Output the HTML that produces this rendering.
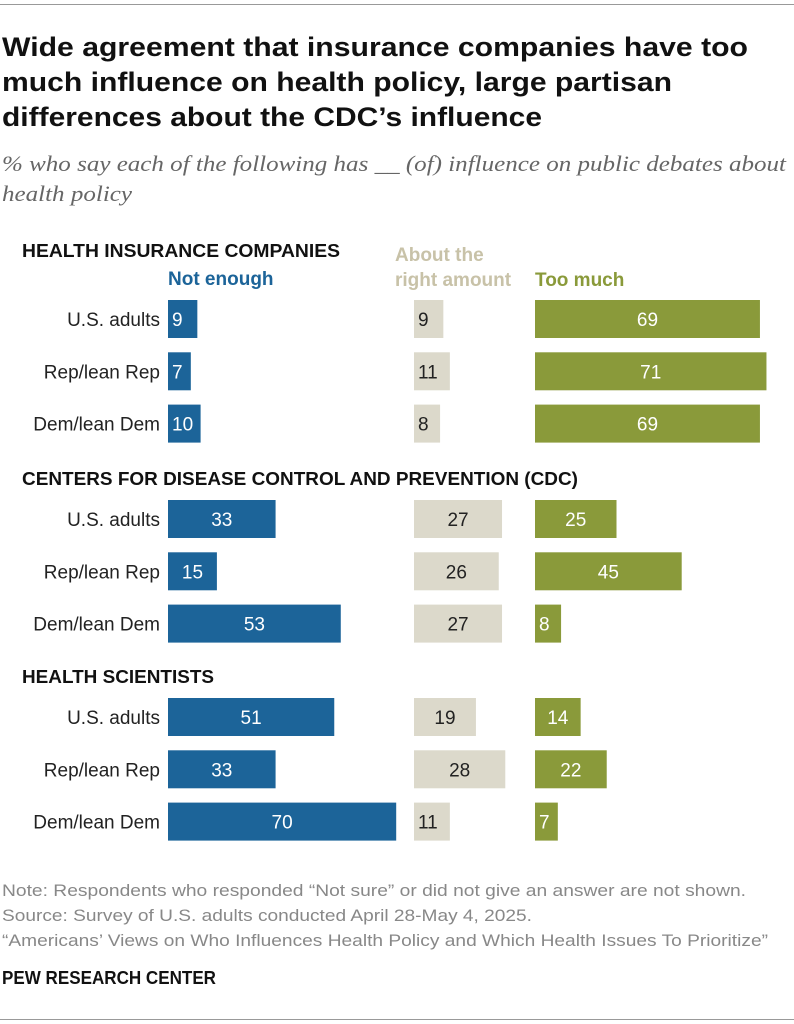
<!DOCTYPE html>
<html><head><meta charset="utf-8"><style>
body{margin:0;background:#fff;width:794px;height:1024px;overflow:hidden;font-family:"Liberation Sans Narrow","Liberation Sans",sans-serif}
svg{display:block}
</style></head><body>
<svg width="794" height="1024" viewBox="0 0 794 1024">
<line x1="0" y1="4.5" x2="794" y2="4.5" stroke="#999" stroke-width="1"/>
<g font-family="Liberation Sans, sans-serif" font-weight="bold" font-size="27" fill="#111">
<text x="2" y="56" textLength="746" lengthAdjust="spacingAndGlyphs">Wide agreement that insurance companies have too</text>
<text x="2" y="91" textLength="670" lengthAdjust="spacingAndGlyphs">much influence on health policy, large partisan</text>
<text x="2" y="126" textLength="540" lengthAdjust="spacingAndGlyphs">differences about the CDC’s influence</text>
</g>
<g font-family="Liberation Serif, serif" font-style="italic" font-size="22" fill="#666">
<text x="2" y="171" textLength="784" lengthAdjust="spacingAndGlyphs">% who say each of the following has __ (of) influence on public debates about</text>
<text x="2" y="201" textLength="130" lengthAdjust="spacingAndGlyphs">health policy</text>
</g>
<text x="168" y="285" font-weight="bold" font-size="19" fill="#1c6499">Not enough</text>
<text x="395" y="261" font-weight="bold" font-size="19" fill="#c8c2a8">About the</text>
<text x="395" y="286" font-weight="bold" font-size="19" fill="#c8c2a8">right amount</text>
<text x="535" y="286" font-weight="bold" font-size="19" fill="#8a9a3a">Too much</text>
<g id="bars"></g>
<g font-size="17" fill="#888">
<text x="2" y="896" textLength="744" lengthAdjust="spacingAndGlyphs">Note: Respondents who responded “Not sure” or did not give an answer are not shown.</text>
<text x="2" y="921" textLength="530" lengthAdjust="spacingAndGlyphs">Source: Survey of U.S. adults conducted April 28-May 4, 2025.</text>
<text x="2" y="946" textLength="766" lengthAdjust="spacingAndGlyphs">“Americans’ Views on Who Influences Health Policy and Which Health Issues To Prioritize”</text>
</g>
<text x="2" y="984" font-weight="bold" font-size="18" fill="#111" textLength="214" lengthAdjust="spacingAndGlyphs">PEW RESEARCH CENTER</text>
<line x1="0" y1="1019.5" x2="794" y2="1019.5" stroke="#999" stroke-width="1"/>
</svg>
<script>
const sections = ["HEALTH INSURANCE COMPANIES","CENTERS FOR DISEASE CONTROL AND PREVENTION (CDC)","HEALTH SCIENTISTS"];
const groups = ["U.S. adults","Rep/lean Rep","Dem/lean Dem"];
const notEnough = [9,7,10, 33,15,53, 51,33,70];
const rightAmount = [9,11,8, 27,26,27, 19,28,11];
const tooMuch = [69,71,69, 25,45,8, 14,22,7];
const NS="http://www.w3.org/2000/svg";
const g=document.getElementById('bars');
const scale=3.26;
const colX=[168,414,535];
const colors=["#1c6499","#dcd9cb","#8a9a3a"];
const textColors=["#fff","#222","#fff"];
const secTop=[250,478,676];
const secW=[318,556,192];
function rowY(s,r){return (s===0?300:secTop[s]+22)+r*52.3;}
function el(t,a,txt){const e=document.createElementNS(NS,t);for(const k in a)e.setAttribute(k,a[k]);if(txt!==undefined)e.textContent=txt;g.appendChild(e);return e;}
sections.forEach((s,si)=>{
  const t=el('text',{x:22,y:secTop[si]+7,'font-family':'Liberation Sans, sans-serif','font-weight':'bold','font-size':18,fill:'#111',textLength:secW[si],lengthAdjust:'spacingAndGlyphs'},s);
  
  
  groups.forEach((gname,ri)=>{
    const i=si*3+ri;const y=rowY(si,ri);
    const lab=el('text',{x:160,y:y+26,'text-anchor':'end','font-size':19,fill:'#222'},gname);
    
    
    [notEnough,rightAmount,tooMuch].forEach((arr,ci)=>{
      const v=arr[i];const w=v*scale;
      const r=el('rect',{x:colX[ci],y:y,width:w,height:38,fill:colors[ci]});
      
      
      const small=w<40;
      const tx=small?colX[ci]+4:colX[ci]+w/2;
      const tc=el('text',{x:tx,y:y+26,'text-anchor':small?'start':'middle','font-size':19,fill:textColors[ci]},String(v));
      
      
    });
  });
});
</script>
</body></html>
